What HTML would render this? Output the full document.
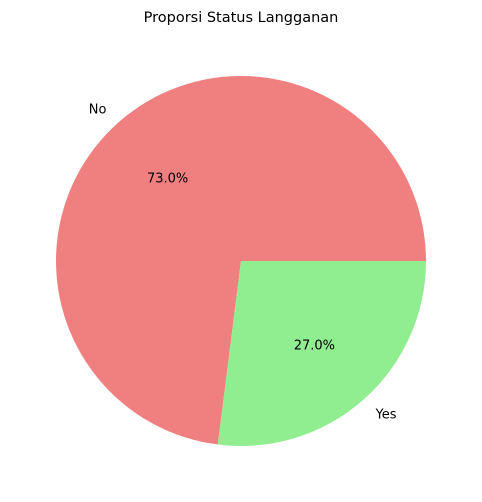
<!DOCTYPE html>
<html><head><meta charset="utf-8"><style>
html,body{margin:0;padding:0;background:#fff;}
svg{display:block;font-family:"DejaVu Sans","Liberation Sans",sans-serif;}
</style></head><body>
<svg id="chart" width="482" height="502" viewBox="0 0 482 502">
<text x="241" y="22" text-anchor="middle" font-size="14.5" fill="#000">Proporsi Status Langganan</text>
<g id="slices"></g>
</svg>
<script>
const categories = ["No", "Yes"];
const values = [73.0, 27.0];
const colors = ["#F08080", "#90EE90"];
const cx = 241, cy = 261, r = 185;
const ns = "http://www.w3.org/2000/svg";
const g = document.getElementById("slices");
const total = values.reduce((a, b) => a + b, 0);
let start = 0;
function pt(angDeg, rad) {
  const a = angDeg * Math.PI / 180;
  return [cx + rad * Math.cos(a), cy - rad * Math.sin(a)];
}
values.forEach((v, i) => {
  const sweep = v / total * 360;
  const end = start + sweep;
  const [x1, y1] = pt(start, r), [x2, y2] = pt(end, r);
  const large = sweep > 180 ? 1 : 0;
  const p = document.createElementNS(ns, "path");
  p.setAttribute("d", `M${cx},${cy} L${x1},${y1} A${r},${r} 0 ${large} 0 ${x2},${y2} Z`);
  p.setAttribute("fill", colors[i]);
  
  
  g.appendChild(p);
  const mid = start + sweep / 2;
  const [lx, ly] = pt(mid, r * 1.1);
  const t = document.createElementNS(ns, "text");
  t.setAttribute("x", lx); t.setAttribute("y", ly + 5);
  t.setAttribute("font-size", "13");
  t.setAttribute("text-anchor", Math.cos(mid * Math.PI / 180) < 0 ? "end" : "start");
  t.textContent = categories[i];
  
  
  g.appendChild(t);
  const [px, py] = pt(mid, r * 0.6);
  const pc = document.createElementNS(ns, "text");
  pc.setAttribute("x", px); pc.setAttribute("y", py + 5);
  pc.setAttribute("font-size", "13");
  pc.setAttribute("text-anchor", "middle");
  pc.textContent = (v / total * 100).toFixed(1) + "%";
  
  
  g.appendChild(pc);
  start = end;
});
</script>
</body></html>
